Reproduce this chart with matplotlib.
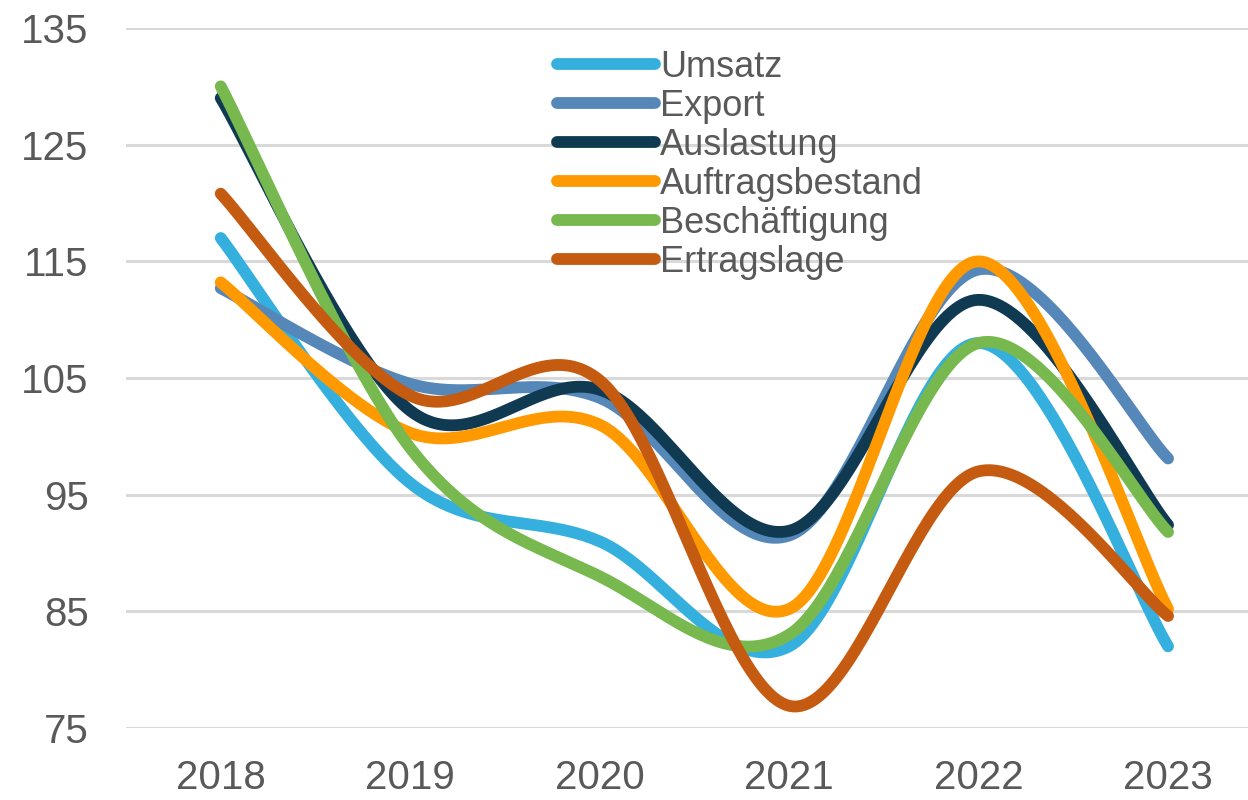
import numpy as np
import matplotlib
matplotlib.use("Agg")
import matplotlib.pyplot as plt

years = ["2018", "2019", "2020", "2021", "2022", "2023"]
umsatz = [117.0, 96.0, 91.0, 82.0, 108.0, 82.0]
export = [112.7, 104.5, 103.3, 91.5, 114.3, 98.1]
auslastung = [129.0, 102.2, 104.0, 91.9, 111.7, 92.4]
auftragsbestand = [113.2, 100.3, 101.0, 85.2, 115.0, 85.2]
beschaeftigung = [130.0, 99.0, 88.0, 83.0, 108.0, 91.8]
ertragslage = [120.8, 103.5, 104.8, 76.9, 97.0, 84.6]

series_names = ["Umsatz", "Export", "Auslastung", "Auftragsbestand", "Beschäftigung", "Ertragslage"]
series_values = [umsatz, export, auslastung, auftragsbestand, beschaeftigung, ertragslage]
colors = ["#35B0DE", "#5587B8", "#0F3A52", "#FF9900", "#77B94F", "#C55A11"]


def smooth(xs, ys, n=50):
    pts = np.column_stack([np.asarray(xs, float), np.asarray(ys, float)])
    out = []
    for i in range(len(pts) - 1):
        p0 = pts[i - 1] if i > 0 else pts[i]
        p1 = pts[i]
        p2 = pts[i + 1]
        p3 = pts[i + 2] if i + 2 < len(pts) else pts[i + 1]
        c1 = p1 + (p2 - p0) / 6.0
        c2 = p2 - (p3 - p1) / 6.0
        t = np.linspace(0, 1, n)[:, None]
        seg = (1 - t) ** 3 * p1 + 3 * (1 - t) ** 2 * t * c1 + 3 * (1 - t) * t ** 2 * c2 + t ** 3 * p2
        out.append(seg if i == 0 else seg[1:])
    return np.vstack(out)


plt.rcParams['font.family'] = ['Liberation Sans', 'DejaVu Sans']

W, H = 1248, 800
fig = plt.figure(figsize=(W / 100, H / 100), dpi=100)
left, right, top, bottom = 126, 1248, 28, 728
ax = fig.add_axes([left / W, 1 - bottom / H, (right - left) / W, (bottom - top) / H])

x = np.arange(len(years))
for name, vals, col in zip(series_names, series_values, colors):
    s = smooth(x, vals)
    ax.plot(s[:, 0], s[:, 1], color=col, lw=8.5, solid_capstyle='round',
            solid_joinstyle='round', label=name, zorder=3)

ax.set_ylim(75, 135)
ax.set_yticks([75, 85, 95, 105, 115, 125, 135])
x_right = (1248 - 220) / 189.6
ax.set_xlim(-0.5, x_right)
ax.set_xticks(x)
ax.set_xticklabels(years)

ax.grid(axis='y', color='#D9D9D9', lw=2.2, zorder=0)
ax.set_axisbelow(True)
for sp in ax.spines.values():
    sp.set_visible(False)
ax.tick_params(axis='both', length=0, labelsize=29, labelcolor='#595959')
ax.tick_params(axis='y', pad=27)
ax.tick_params(axis='x', pad=22)

leg = ax.legend(loc='upper left', bbox_to_anchor=(557 / W, 1 - 50 / H),
                bbox_transform=fig.transFigure, frameon=False,
                fontsize=26, handlelength=2.7, handletextpad=0.15,
                labelspacing=0.11, borderpad=0, borderaxespad=0)
for t in leg.get_texts():
    t.set_color('#595959')

fig.savefig("out.png", dpi=100)
